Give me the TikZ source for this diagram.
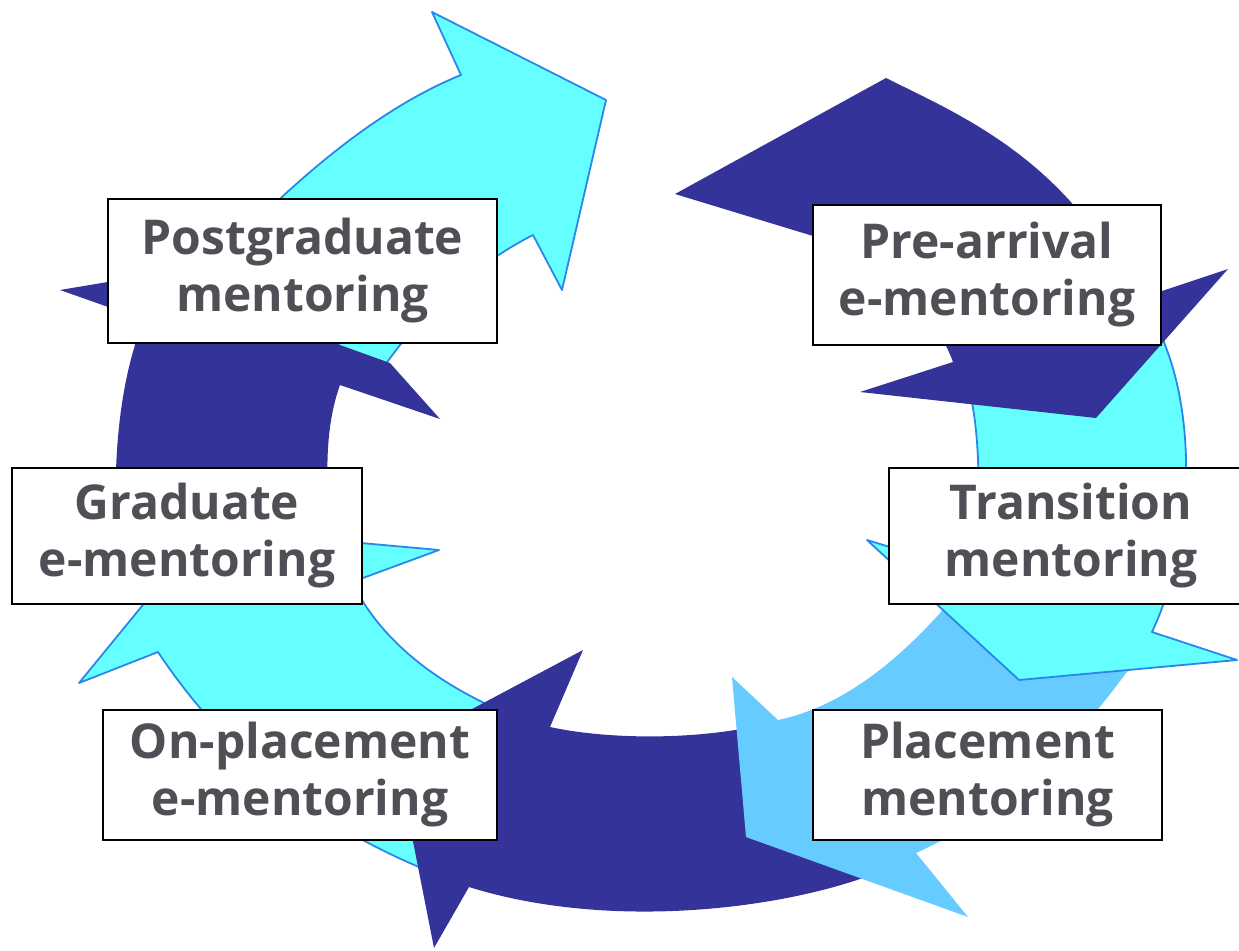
\documentclass[tikz,border=0pt]{standalone}
\usepackage{fontspec}
\setmainfont{Open Sans}
\definecolor{blu}{RGB}{51,51,153}
\definecolor{azzurro}{RGB}{102,255,255}
\definecolor{celeste}{RGB}{102,204,255}
\definecolor{bordo}{RGB}{40,135,235}
\definecolor{grigio}{RGB}{79,80,85}
\tikzset{
    riquadro/.style={draw=black, line width=2pt, fill=white, align=center, text=grigio,
        font=\bfseries\fontsize{48}{57}\selectfont, inner sep=0pt},
    frecciaAzzurra/.style={fill=azzurro, draw=bordo, line width=1.8pt, line join=round},
}
\begin{document}
\begin{tikzpicture}[x=1pt,y=-1pt]
        \useasboundingbox (0,0) rectangle (1239,950);
        % Freccia in alto a sinistra
        \filldraw[frecciaAzzurra] (180,300) .. controls (250,225) and (350,120) .. (461,75)
            -- (432,12) -- (606,100) -- (562,290) -- (533,235)
            .. controls (480,262) and (420,310) .. (375,380) -- cycle;
        % Freccia a sinistra
        \fill[blu] (227,262) -- (60,290) -- (128,314) -- (135,345)
            .. controls (118,400) and (110,480) .. (120,575)
            -- (343,575) .. controls (326,520) and (320,440) .. (340,385)
            -- (440,419) -- (390,363) -- (340,345) -- cycle;
        % Freccia in basso a sinistra
        \filldraw[frecciaAzzurra] (205,529) -- (439,550) -- (352,582)
            .. controls (380,640) and (440,690) .. (530,722)
            -- (445,880) -- (419,867) .. controls (320,825) and (230,760) .. (158,652)
            -- (79,683) -- cycle;
        % Freccia in basso
        \fill[blu] (395,750) -- (583,650) -- (550,727)
            .. controls (610,740) and (700,740) .. (765,724)
            -- (875,873) -- (857,880) .. controls (760,912) and (600,928) .. (469,887)
            -- (434,948) -- cycle;
        % Freccia in basso a destra
        \fill[celeste] (960,590) -- (1150,648) -- (1126,673)
            .. controls (1070,750) and (1000,815) .. (916,853)
            -- (968,917) -- (746,837) -- (732,677) -- (778,720)
            .. controls (850,705) and (910,650) .. (960,590) -- cycle;
        % Freccia a destra
        \filldraw[frecciaAzzurra] (965,372) -- (1158,325) -- (1165,345)
            .. controls (1195,420) and (1195,540) .. (1152,632)
            -- (1237,660) -- (1019,680) -- (867,540) -- (975,573)
            .. controls (980,500) and (982,430) .. (965,372) -- cycle;
        % Freccia in alto a destra
        \fill[blu] (675,194) -- (886,78)
            .. controls (960,115) and (1070,160) .. (1135,300)
            -- (1228,269) -- (1096,418) -- (860,392) -- (953,362)
            .. controls (930,300) and (870,255) .. (813,236) -- cycle;
        % Riquadri
        \node[riquadro, minimum width=389pt, minimum height=144pt] (post) at (302.5,271) {Postgraduate\\mentoring};
        \node[riquadro, minimum width=348pt, minimum height=140pt] (pre) at (987,275) {Pre-arrival\\e-mentoring};
        \node[riquadro, minimum width=350pt, minimum height=136pt] (grad) at (187,536) {Graduate\\e-mentoring};
        \node[riquadro, minimum width=364pt, minimum height=136pt] (trans) at (1071,536) {Transition\\mentoring};
        \node[riquadro, minimum width=394pt, minimum height=130pt] (onpl) at (300,775) {On-placement\\e-mentoring};
        \node[riquadro, minimum width=349pt, minimum height=130pt] (plac) at (987.5,775) {Placement\\mentoring};
    \end{tikzpicture}
\end{document}
